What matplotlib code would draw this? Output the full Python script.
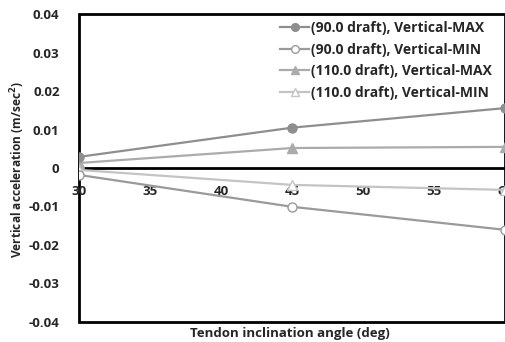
import matplotlib
matplotlib.use("Agg")
import matplotlib.pyplot as plt
from matplotlib.patches import Rectangle

# Tendon inclination angles (deg)
angles = [30, 45, 60]

# Vertical acceleration (m/sec^2)
draft90_max = [0.0029, 0.0105, 0.0156]
draft90_min = [-0.0018, -0.0101, -0.0161]
draft110_max = [0.0013, 0.0052, 0.0055]
draft110_min = [-0.0005, -0.0044, -0.0057]

labels = [
    "(90.0 draft), Vertical-MAX",
    "(90.0 draft), Vertical-MIN",
    "(110.0 draft), Vertical-MAX",
    "(110.0 draft), Vertical-MIN",
]

xticks = [30, 35, 40, 45, 50, 55, 60]
yticks = [-0.04, -0.03, -0.02, -0.01, 0, 0.01, 0.02, 0.03, 0.04]
ytick_labels = ["-0.04", "-0.03", "-0.02", "-0.01", "0", "0.01", "0.02", "0.03", "0.04"]

plt.rcParams["font.family"] = ["Open Sans", "DejaVu Sans"]
plt.rcParams["font.weight"] = "bold"

W, H = 506, 342
fig = plt.figure(figsize=(W / 100, H / 100), dpi=100)
ax = fig.add_axes([79 / W, 1 - 321.7 / H, (505.5 - 79) / W, (321.7 - 14.3) / H])

c90 = "#8e8e8e"
c90min = "#9a9a9a"
c110 = "#ababab"
c110min = "#c4c4c4"
lw = 1.6
ms = 6.5

ax.plot(angles, draft90_max, color=c90, lw=lw, marker="o", ms=ms,
        mfc=c90, mec=c90, label=labels[0], zorder=4)
ax.plot(angles, draft90_min, color=c90min, lw=lw, marker="o", ms=ms,
        mfc="white", mec=c90min, label=labels[1], zorder=4)
ax.plot(angles, draft110_max, color=c110, lw=lw, marker="^", ms=ms,
        mfc=c110, mec=c110, label=labels[2], zorder=3)
ax.plot(angles, draft110_min, color=c110min, lw=lw, marker="^", ms=ms,
        mfc="white", mec=c110min, label=labels[3], zorder=3)

ax.set_xlim(30, 60)
ax.set_ylim(-0.04, 0.04)
ax.set_xticks(xticks)
ax.set_xticklabels([str(t) for t in xticks])
ax.set_yticks(yticks)
ax.set_yticklabels(ytick_labels)

txt_color = "#262626"
ax.tick_params(axis="both", length=0, labelsize=9.5, labelcolor=txt_color)
ax.tick_params(axis="x", pad=12)
ax.tick_params(axis="y", pad=14)
for lab in ax.get_xticklabels() + ax.get_yticklabels():
    lab.set_fontweight("bold")

# horizontal axis crosses at zero
ax.spines["bottom"].set_position(("data", 0))
ax.spines["bottom"].set_linewidth(2)
ax.spines["bottom"].set_color("black")
ax.spines["bottom"].set_zorder(2)
for s in ["top", "left", "right"]:
    ax.spines[s].set_visible(False)

# plot area border
ax.add_patch(Rectangle((0, 0), 1, 1, transform=ax.transAxes, fill=False,
                       edgecolor="black", lw=2, clip_on=False, zorder=1))

leg = ax.legend(loc="upper left", bbox_to_anchor=(280 / W, 1 - 21 / H),
                bbox_transform=fig.transFigure, frameon=False, fontsize=10,
                handlelength=2.1, handletextpad=0.1, labelspacing=0.55,
                borderpad=0, borderaxespad=0, markerscale=0.85)
for t in leg.get_texts():
    t.set_color(txt_color)
    t.set_fontweight("bold")

fig.text(290 / W, 1 - 333 / H, "Tendon inclination angle (deg)", ha="center",
         va="center", fontsize=9.5, fontweight="bold", color=txt_color)
fig.text(18 / W, 1 - 170 / H, "Vertical acceleration (m/sec$^{\\mathbf{2}}$)",
         ha="center", va="center", rotation=90, fontsize=8.6, fontweight="bold",
         color=txt_color)

fig.savefig("out.png", dpi=100, facecolor="white")
